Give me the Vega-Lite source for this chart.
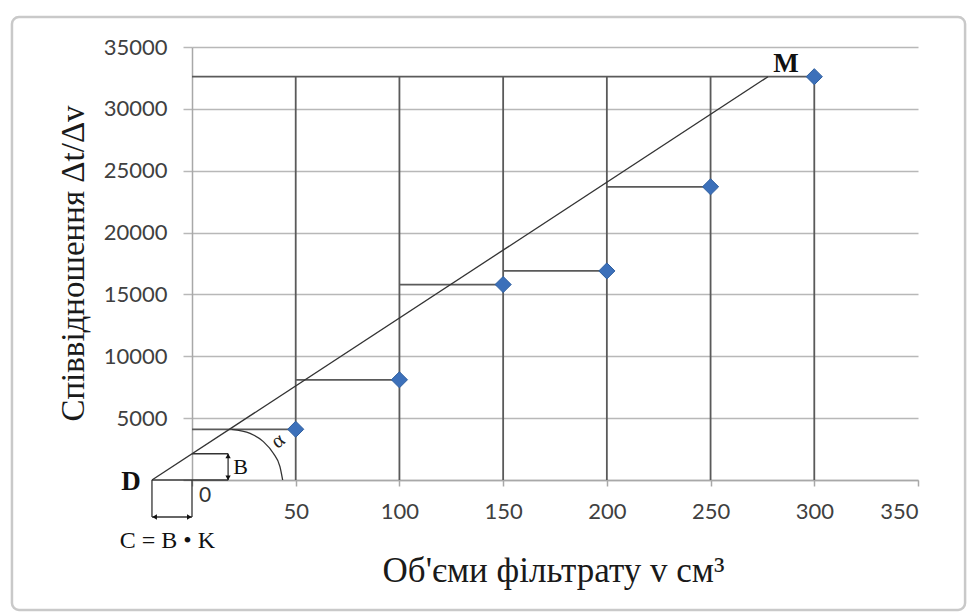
{
  "$schema": "https://vega.github.io/schema/vega-lite/v6.json",
  "width": 726,
  "height": 433,
  "autosize": {"type": "none"},
  "padding": {"left": 192, "top": 47, "right": 50, "bottom": 134},
  "background": "white",
  "config": {"view": {"stroke": null}},
  "datasets": {
    "frame": [{"x": -86.8, "x2": 372.7, "y": 37424, "y2": -10508}],
    "points": [
      {"v": 50, "r": 4100},
      {"v": 100, "r": 8100},
      {"v": 150, "r": 15800},
      {"v": 200, "r": 16900},
      {"v": 250, "r": 23700},
      {"v": 300, "r": 32600}
    ],
    "steps": [
      {"x": 0, "x2": 50, "y": 4100},
      {"x": 50, "x2": 100, "y": 8100},
      {"x": 100, "x2": 150, "y": 15800},
      {"x": 150, "x2": 200, "y": 16900},
      {"x": 200, "x2": 250, "y": 23700},
      {"x": 0, "x2": 300, "y": 32600}
    ],
    "verticals": [
      {"x": 50, "y": 0, "y2": 32600},
      {"x": 100, "y": 0, "y2": 32600},
      {"x": 150, "y": 0, "y2": 32600},
      {"x": 200, "y": 0, "y2": 32600},
      {"x": 250, "y": 0, "y2": 32600},
      {"x": 300, "y": 0, "y2": 32600}
    ],
    "construction": [
      {"x": -19.3, "y": 0, "x2": 277.7, "y2": 32600},
      {"x": 0, "y": 2120, "x2": 17.4, "y2": 2120},
      {"x": -19.3, "y": 0, "x2": 17.4, "y2": 0},
      {"x": 17.4, "y": 0, "x2": 17.4, "y2": 2120},
      {"x": -19.3, "y": 0, "x2": -19.3, "y2": -2990},
      {"x": 0, "y": 0, "x2": 0, "y2": -2990},
      {"x": -19.3, "y": -2990, "x2": 0, "y2": -2990}
    ],
    "arc": [
      {"x": 19.1, "y": 4100},
      {"x": 28.0, "y": 3770},
      {"x": 34.4, "y": 3100},
      {"x": 39.2, "y": 2160},
      {"x": 42.4, "y": 1080},
      {"x": 43.7, "y": 0}
    ],
    "arrowsUp": [{"x": 17.4, "y": 1950}],
    "arrowsDown": [{"x": 17.4, "y": 170}],
    "arrowsLeft": [{"x": -18.0, "y": -2990}],
    "arrowsRight": [{"x": -1.3, "y": -2990}],
    "serifLabels": [
      {"x": 286.4, "y": 33000, "t": "M"},
      {"x": -29.4, "y": -808, "t": "D"}
    ],
    "bLabel": [{"x": 19.9, "y": 485, "t": "B"}],
    "zeroLabel": [{"x": 6.3, "y": -1750, "t": "0"}],
    "cLabel": [{"x": -11.9, "y": -5520, "t": "C = B • K"}],
    "alpha": [{"x": 41.5, "y": 3150, "t": "α"}]
  },
  "layer": [
    {
      "data": {"name": "frame"},
      "mark": {"type": "rect", "fill": "transparent", "stroke": "#c9c9c9", "strokeWidth": 2.5, "cornerRadius": 7},
      "encoding": {
        "x": {"field": "x", "type": "quantitative", "scale": {"domain": [0, 350], "nice": false, "zero": false}},
        "x2": {"field": "x2"},
        "y": {"field": "y", "type": "quantitative", "scale": {"domain": [0, 35000], "nice": false}},
        "y2": {"field": "y2"}
      }
    },
    {
      "data": {"name": "verticals"},
      "mark": {"type": "rule", "color": "#5a5a5a", "strokeWidth": 1.8},
      "encoding": {
        "x": {"field": "x", "type": "quantitative", "scale": {"domain": [0, 350], "nice": false, "zero": false}},
        "y": {"field": "y", "type": "quantitative", "scale": {"domain": [0, 35000], "nice": false}},
        "y2": {"field": "y2"}
      }
    },
    {
      "data": {"name": "steps"},
      "mark": {"type": "rule", "color": "#5a5a5a", "strokeWidth": 1.8},
      "encoding": {
        "x": {"field": "x", "type": "quantitative", "scale": {"domain": [0, 350], "nice": false, "zero": false}},
        "x2": {"field": "x2"},
        "y": {"field": "y", "type": "quantitative", "scale": {"domain": [0, 35000], "nice": false}}
      }
    },
    {
      "data": {"name": "construction"},
      "mark": {"type": "rule", "color": "#333333", "strokeWidth": 1.3},
      "encoding": {
        "x": {"field": "x", "type": "quantitative", "scale": {"domain": [0, 350], "nice": false, "zero": false}},
        "x2": {"field": "x2"},
        "y": {"field": "y", "type": "quantitative", "scale": {"domain": [0, 35000], "nice": false}},
        "y2": {"field": "y2"}
      }
    },
    {
      "data": {"name": "arc"},
      "mark": {"type": "line", "color": "#333333", "strokeWidth": 1.3, "interpolate": "monotone"},
      "encoding": {
        "x": {"field": "x", "type": "quantitative", "scale": {"domain": [0, 350], "nice": false, "zero": false}},
        "y": {"field": "y", "type": "quantitative", "scale": {"domain": [0, 35000], "nice": false}}
      }
    },
    {
      "data": {"name": "arrowsUp"},
      "mark": {"type": "point", "shape": "triangle-up", "filled": true, "color": "#111111", "size": 28, "opacity": 1},
      "encoding": {
        "x": {"field": "x", "type": "quantitative", "scale": {"domain": [0, 350], "nice": false, "zero": false}},
        "y": {"field": "y", "type": "quantitative", "scale": {"domain": [0, 35000], "nice": false}}
      }
    },
    {
      "data": {"name": "arrowsDown"},
      "mark": {"type": "point", "shape": "triangle-down", "filled": true, "color": "#111111", "size": 28, "opacity": 1},
      "encoding": {
        "x": {"field": "x", "type": "quantitative", "scale": {"domain": [0, 350], "nice": false, "zero": false}},
        "y": {"field": "y", "type": "quantitative", "scale": {"domain": [0, 35000], "nice": false}}
      }
    },
    {
      "data": {"name": "arrowsLeft"},
      "mark": {"type": "point", "shape": "triangle-left", "filled": true, "color": "#111111", "size": 28, "opacity": 1},
      "encoding": {
        "x": {"field": "x", "type": "quantitative", "scale": {"domain": [0, 350], "nice": false, "zero": false}},
        "y": {"field": "y", "type": "quantitative", "scale": {"domain": [0, 35000], "nice": false}}
      }
    },
    {
      "data": {"name": "arrowsRight"},
      "mark": {"type": "point", "shape": "triangle-right", "filled": true, "color": "#111111", "size": 28, "opacity": 1},
      "encoding": {
        "x": {"field": "x", "type": "quantitative", "scale": {"domain": [0, 350], "nice": false, "zero": false}},
        "y": {"field": "y", "type": "quantitative", "scale": {"domain": [0, 35000], "nice": false}}
      }
    },
    {
      "data": {"name": "points"},
      "mark": {"type": "point", "shape": "diamond", "filled": true, "color": "#3c70ba", "stroke": "#2f5f9f", "strokeWidth": 1, "size": 260, "opacity": 1},
      "encoding": {
        "x": {
          "field": "v",
          "type": "quantitative",
          "scale": {"domain": [0, 350], "nice": false, "zero": false},
          "axis": {
            "values": [0, 50, 100, 150, 200, 250, 300, 350],
            "labelExpr": "datum.value == 0 ? '' : datum.label",
            "grid": false,
            "domainColor": "#a8a8a8",
            "domainWidth": 1.5,
            "tickColor": "#a8a8a8",
            "tickWidth": 1.5,
            "tickSize": 6,
            "labelFont": "Lato",
            "labelFontSize": 22,
            "labelColor": "#404040",
            "labelPadding": 15,
            "title": "Об'єми фільтрату v см³",
            "titleFont": "Liberation Serif",
            "titleFontSize": 35,
            "titleFontWeight": "normal",
            "titleColor": "#1a1a1a",
            "titleX": 361,
            "titleY": 101,
            "titleAlign": "center",
            "titleBaseline": "alphabetic"
          }
        },
        "y": {
          "field": "r",
          "type": "quantitative",
          "scale": {"domain": [0, 35000], "nice": false},
          "axis": {
            "values": [0, 5000, 10000, 15000, 20000, 25000, 30000, 35000],
            "format": "d",
            "labelExpr": "datum.value == 0 ? '' : datum.label",
            "grid": true,
            "gridColor": "#b8b8b8",
            "gridWidth": 1.5,
            "domainColor": "#a8a8a8",
            "domainWidth": 1.5,
            "tickColor": "#b8b8b8",
            "tickWidth": 1.5,
            "tickSize": 9,
            "labelFont": "Lato",
            "labelFontSize": 22,
            "labelColor": "#404040",
            "labelPadding": 16,
            "title": "Співвідношення  Δt/Δv",
            "titleFont": "Liberation Serif",
            "titleFontSize": 33,
            "titleFontWeight": "normal",
            "titleColor": "#1a1a1a",
            "titleAngle": 270,
            "titleX": -109,
            "titleY": 216,
            "titleAlign": "center",
            "titleBaseline": "alphabetic"
          }
        }
      }
    },
    {
      "data": {"name": "serifLabels"},
      "mark": {"type": "text", "font": "Liberation Serif", "fontSize": 27, "fontWeight": "bold", "color": "#111111", "align": "center", "baseline": "alphabetic"},
      "encoding": {
        "x": {"field": "x", "type": "quantitative", "scale": {"domain": [0, 350], "nice": false, "zero": false}},
        "y": {"field": "y", "type": "quantitative", "scale": {"domain": [0, 35000], "nice": false}},
        "text": {"field": "t"}
      }
    },
    {
      "data": {"name": "bLabel"},
      "mark": {"type": "text", "font": "Liberation Serif", "fontSize": 22, "color": "#111111", "align": "left", "baseline": "alphabetic"},
      "encoding": {
        "x": {"field": "x", "type": "quantitative", "scale": {"domain": [0, 350], "nice": false, "zero": false}},
        "y": {"field": "y", "type": "quantitative", "scale": {"domain": [0, 35000], "nice": false}},
        "text": {"field": "t"}
      }
    },
    {
      "data": {"name": "zeroLabel"},
      "mark": {"type": "text", "font": "Lato", "fontSize": 21, "color": "#333333", "align": "center", "baseline": "alphabetic"},
      "encoding": {
        "x": {"field": "x", "type": "quantitative", "scale": {"domain": [0, 350], "nice": false, "zero": false}},
        "y": {"field": "y", "type": "quantitative", "scale": {"domain": [0, 35000], "nice": false}},
        "text": {"field": "t"}
      }
    },
    {
      "data": {"name": "cLabel"},
      "mark": {"type": "text", "font": "Liberation Serif", "fontSize": 24, "color": "#111111", "align": "center", "baseline": "alphabetic"},
      "encoding": {
        "x": {"field": "x", "type": "quantitative", "scale": {"domain": [0, 350], "nice": false, "zero": false}},
        "y": {"field": "y", "type": "quantitative", "scale": {"domain": [0, 35000], "nice": false}},
        "text": {"field": "t"}
      }
    },
    {
      "data": {"name": "alpha"},
      "mark": {"type": "text", "font": "Liberation Serif", "fontSize": 21, "color": "#222222", "align": "center", "baseline": "middle", "angle": 320},
      "encoding": {
        "x": {"field": "x", "type": "quantitative", "scale": {"domain": [0, 350], "nice": false, "zero": false}},
        "y": {"field": "y", "type": "quantitative", "scale": {"domain": [0, 35000], "nice": false}},
        "text": {"field": "t"}
      }
    }
  ]
}
